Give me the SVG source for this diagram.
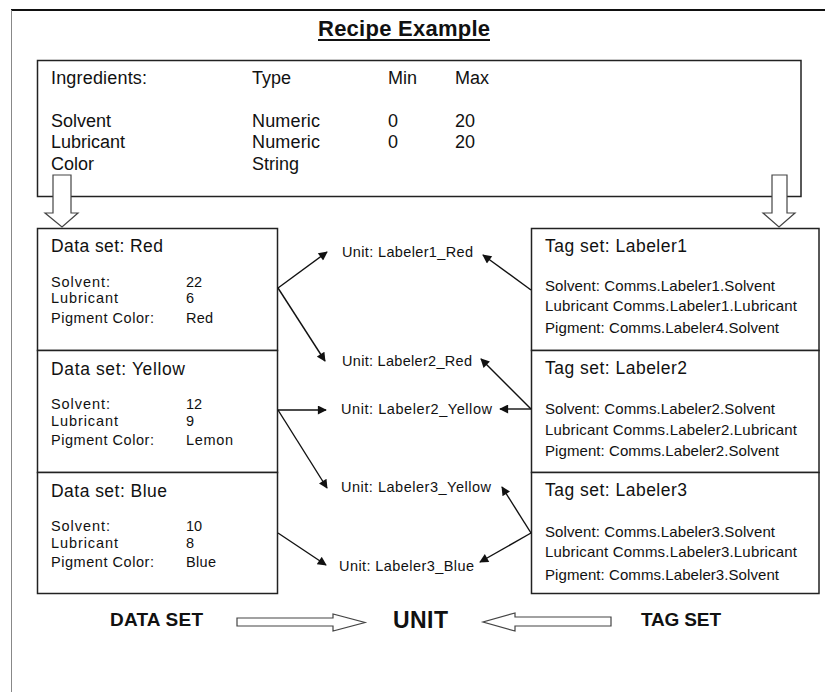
<svg xmlns="http://www.w3.org/2000/svg" width="825" height="692" viewBox="0 0 825 692">
<style>
text{font-family:"Liberation Sans",Arial,sans-serif;fill:#111}
.box{fill:#fff;stroke:#222;stroke-width:1.5}
.hd{font-size:18px}
.big{font-size:17.5px}
.sm{font-size:14.5px}
.tg{font-size:15px}
.un{font-size:14.5px}
.bot{font-weight:bold}
.con{stroke:#111;stroke-width:1.4;fill:none;marker-end:url(#ah)}
.hol{fill:#fff;stroke:#444;stroke-width:1.2}
</style>
<defs>
<marker id="ah" viewBox="0 0 10 10" refX="9" refY="5" markerWidth="11" markerHeight="9" markerUnits="userSpaceOnUse" orient="auto">
<path d="M0,0 L10,5 L0,10 Z" fill="#111"/>
</marker>
</defs>
<rect width="825" height="692" fill="#fff"/>
<g id="frame">
<line x1="11" y1="10" x2="825" y2="10" stroke="#111" stroke-width="2"/>
<line x1="11.5" y1="10" x2="11.5" y2="692" stroke="#888" stroke-width="1"/>
</g>
<g id="title">
<text x="404" y="36" text-anchor="middle" font-size="22" font-weight="bold" textLength="172">Recipe Example</text>
<line x1="318" y1="40" x2="490" y2="40" stroke="#111" stroke-width="2"/>
</g>
<g id="recipe">
<rect class="box" x="37.5" y="60.5" width="763.5" height="136"/>
<text class="hd" x="51" y="84" textLength="96">Ingredients:</text>
<text class="hd" x="252" y="84">Type</text>
<text class="hd" x="388" y="84">Min</text>
<text class="hd" x="455" y="84">Max</text>
<text class="hd" x="51" y="127">Solvent</text>
<text class="hd" x="252" y="127" textLength="68">Numeric</text>
<text class="hd" x="388" y="127">0</text>
<text class="hd" x="455" y="127">20</text>
<text class="hd" x="51" y="148">Lubricant</text>
<text class="hd" x="252" y="148" textLength="68">Numeric</text>
<text class="hd" x="388" y="148">0</text>
<text class="hd" x="455" y="148">20</text>
<text class="hd" x="51" y="170">Color</text>
<text class="hd" x="252" y="170">String</text>
</g>
<g id="down-arrows">
<path class="hol" d="M53,175 H71 V213 H78 L62,227 L45,213 H53 Z"/>
<path class="hol" d="M772,175 H787 V213 H795 L779,227 L763,213 H772 Z"/>
</g>
<g id="ds-red">
<rect class="box" x="37.5" y="228.5" width="240" height="122"/>
<text class="big" x="51" y="252" textLength="112">Data set: Red</text>
<text class="sm" x="51" y="287" textLength="59">Solvent:</text>
<text class="sm" x="186" y="287">22</text>
<text class="sm" x="51" y="303" textLength="67">Lubricant</text>
<text class="sm" x="186" y="303">6</text>
<text class="sm" x="51" y="323" textLength="103">Pigment Color:</text>
<text class="sm" x="186" y="323" textLength="27">Red</text>
</g>
<g id="ds-yellow">
<rect class="box" x="37.5" y="350.5" width="240" height="122"/>
<text class="big" x="51" y="375" textLength="134">Data set: Yellow</text>
<text class="sm" x="51" y="409" textLength="59">Solvent:</text>
<text class="sm" x="186" y="409">12</text>
<text class="sm" x="51" y="426" textLength="67">Lubricant</text>
<text class="sm" x="186" y="426">9</text>
<text class="sm" x="51" y="445" textLength="103">Pigment Color:</text>
<text class="sm" x="186" y="445" textLength="47">Lemon</text>
</g>
<g id="ds-blue">
<rect class="box" x="37.5" y="472.5" width="240" height="121"/>
<text class="big" x="51" y="497" textLength="116">Data set: Blue</text>
<text class="sm" x="51" y="531" textLength="59">Solvent:</text>
<text class="sm" x="186" y="531">10</text>
<text class="sm" x="51" y="548" textLength="67">Lubricant</text>
<text class="sm" x="186" y="548">8</text>
<text class="sm" x="51" y="567" textLength="103">Pigment Color:</text>
<text class="sm" x="186" y="567" textLength="30">Blue</text>
</g>
<g id="ts-labeler1">
<rect class="box" x="531.5" y="228.5" width="287.5" height="122"/>
<text class="big" x="545" y="252" textLength="142">Tag set: Labeler1</text>
<text class="tg" x="545" y="291" textLength="230">Solvent: Comms.Labeler1.Solvent</text>
<text class="tg" x="545" y="311" textLength="252">Lubricant Comms.Labeler1.Lubricant</text>
<text class="tg" x="545" y="333" textLength="234">Pigment: Comms.Labeler4.Solvent</text>
</g>
<g id="ts-labeler2">
<rect class="box" x="531.5" y="350.5" width="287.5" height="122"/>
<text class="big" x="545" y="374" textLength="142">Tag set: Labeler2</text>
<text class="tg" x="545" y="414" textLength="230">Solvent: Comms.Labeler2.Solvent</text>
<text class="tg" x="545" y="435" textLength="252">Lubricant Comms.Labeler2.Lubricant</text>
<text class="tg" x="545" y="456" textLength="234">Pigment: Comms.Labeler2.Solvent</text>
</g>
<g id="ts-labeler3">
<rect class="box" x="531.5" y="472.5" width="287.5" height="121"/>
<text class="big" x="545" y="496" textLength="142">Tag set: Labeler3</text>
<text class="tg" x="545" y="537" textLength="230">Solvent: Comms.Labeler3.Solvent</text>
<text class="tg" x="545" y="557" textLength="252">Lubricant Comms.Labeler3.Lubricant</text>
<text class="tg" x="545" y="580" textLength="234">Pigment: Comms.Labeler3.Solvent</text>
</g>
<g id="unit-labeler1-red"><text class="un" x="342" y="257" textLength="131">Unit: Labeler1_Red</text></g>
<g id="unit-labeler2-red"><text class="un" x="342" y="366" textLength="130">Unit: Labeler2_Red</text></g>
<g id="unit-labeler2-yellow"><text class="un" x="341" y="414" textLength="151">Unit: Labeler2_Yellow</text></g>
<g id="unit-labeler3-yellow"><text class="un" x="341" y="492" textLength="150">Unit: Labeler3_Yellow</text></g>
<g id="unit-labeler3-blue"><text class="un" x="339" y="571" textLength="135">Unit: Labeler3_Blue</text></g>
<g id="connectors">
<line class="con" x1="278" y1="288" x2="327" y2="252"/>
<line class="con" x1="278" y1="288" x2="325" y2="361"/>
<line class="con" x1="278" y1="410" x2="326" y2="410"/>
<line class="con" x1="278" y1="410" x2="327" y2="488"/>
<line class="con" x1="278" y1="533" x2="326" y2="565"/>
<line class="con" x1="531" y1="290" x2="483" y2="255"/>
<line class="con" x1="531" y1="409" x2="481" y2="359"/>
<line class="con" x1="531" y1="409" x2="500" y2="409"/>
<line class="con" x1="531" y1="533" x2="502" y2="487"/>
<line class="con" x1="531" y1="533" x2="480" y2="562"/>
</g>
<g id="legend">
<text class="bot" x="110" y="626" font-size="19" textLength="93">DATA SET</text>
<text class="bot" x="393" y="628" font-size="23" textLength="55">UNIT</text>
<text class="bot" x="641" y="626" font-size="19" textLength="80">TAG SET</text>
<path class="hol" d="M237,618 H333 V614 L365,622.5 L333,631 V626 H237 Z"/>
<path class="hol" d="M611,617 H515 V613 L483,622 L515,631 V626 H611 Z"/>
</g>
</svg>
